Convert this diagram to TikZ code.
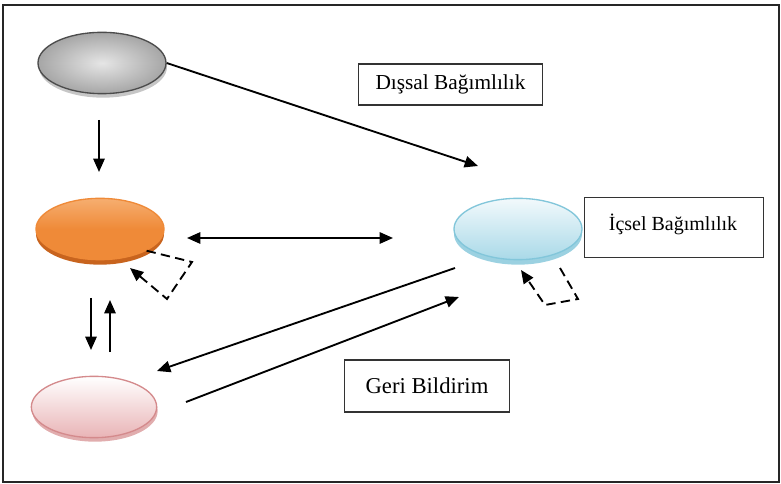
\documentclass[tikz,border=0pt]{standalone}
\usepackage{fontspec}
\setmainfont{Liberation Serif}
\usetikzlibrary{shapes.geometric,arrows.meta}
\definecolor{orgtop}{HTML}{F6AE70}
\definecolor{orgbot}{HTML}{EF8A38}
\definecolor{orgrim}{HTML}{C8641E}
\definecolor{pinkbot}{HTML}{E9B4B6}
\definecolor{pinkline}{HTML}{D48A8C}
\definecolor{bluebot}{HTML}{A9D9E8}
\definecolor{blueline}{HTML}{82C6DA}
\begin{document}
\begin{tikzpicture}[x=0.75pt,y=-0.75pt,
  arr/.style={line width=1.4pt,-{Triangle[length=10pt,width=8.5pt]}},
  dblarr/.style={line width=1.4pt,{Triangle[length=10pt,width=8.5pt]}-{Triangle[length=10pt,width=8.5pt]}},
  dasharr/.style={arr, dash pattern=on 7pt off 4pt},
  lbl/.style={draw=black!80, line width=1.1pt, fill=white, inner sep=0pt},
  ell/.style={ellipse, minimum width=96pt, minimum height=46pt, inner sep=0pt, line width=1pt}]
\useasboundingbox (0,0) rectangle (781,484);
\draw[line width=1.2pt, black!85] (3,5) rectangle (779,482);

% rims / shadows
\fill[gray!45] (103,67) ellipse [x radius=48pt, y radius=23pt];
\fill[orgrim] (100,234) ellipse [x radius=48pt, y radius=23pt];
\fill[pinkline!70] (95,411) ellipse [x radius=47pt, y radius=23pt];
\fill[blueline!80] (518,234) ellipse [x radius=48pt, y radius=23pt];

% ellipses
\node[ell, draw=gray!60!black, shading=radial, inner color=gray!20, outer color=gray!70] (gray) at (102,63) {};
\node[ell, draw=orgbot, top color=orgtop, bottom color=orgbot, middle color=orgbot] (orange) at (100,229) {};
\node[ell, minimum width=94pt, draw=pinkline, top color=white, bottom color=pinkbot] (pink) at (94,407) {};
\node[ell, draw=blueline, top color=white!85!bluebot, bottom color=bluebot] (blue) at (518,229) {};

% labels
\node[lbl, minimum width=138pt, minimum height=31pt, font=\fontsize{16}{19}\selectfont] (dis) at (450.5,84.5) {Dışsal Bağımlılık};
\node[lbl, minimum width=134pt, minimum height=45pt, anchor=north west] (ic) at (584,197) {};
\node[font=\fontsize{15}{18}\selectfont] (ictext) at (673,224) {İçsel Bağımlılık};
\node[lbl, minimum width=124pt, minimum height=39pt, font=\fontsize{17}{20}\selectfont] (geri) at (427,386) {Geri Bildirim};

% coordinates
\coordinate (g2b) at (478,166);
\coordinate (d1s) at (99,120);
\coordinate (d1e) at (99,172);
\coordinate (h1) at (187,238);
\coordinate (h2) at (393,238);
\coordinate (d2s) at (91,298);
\coordinate (d2e) at (91,350);
\coordinate (u2s) at (110,352);
\coordinate (u2e) at (110,300);
\coordinate (oa) at (192,262);
\coordinate (ob) at (167,299);
\coordinate (ot) at (130,268);
\coordinate (bs) at (560,268);
\coordinate (ba) at (578,299);
\coordinate (bb) at (545,305);
\coordinate (bt) at (521,270);
\coordinate (b2ps) at (455,268);
\coordinate (b2pe) at (157,371);
\coordinate (p2bs) at (186,402);
\coordinate (p2be) at (459,297);

% connectors
\draw[arr] (gray.east) -- (g2b);
\draw[arr] (d1s) -- (d1e);
\draw[dblarr] (h1) -- (h2);
\draw[arr] (d2s) -- (d2e);
\draw[arr] (u2s) -- (u2e);
\draw[dasharr] (orange.-25) -- (oa) -- (ob) -- (ot);
\draw[dasharr] (bs) -- (ba) -- (bb) -- (bt);
\draw[arr] (b2ps) -- (b2pe);
\draw[arr] (p2bs) -- (p2be);
\end{tikzpicture}
\end{document}
